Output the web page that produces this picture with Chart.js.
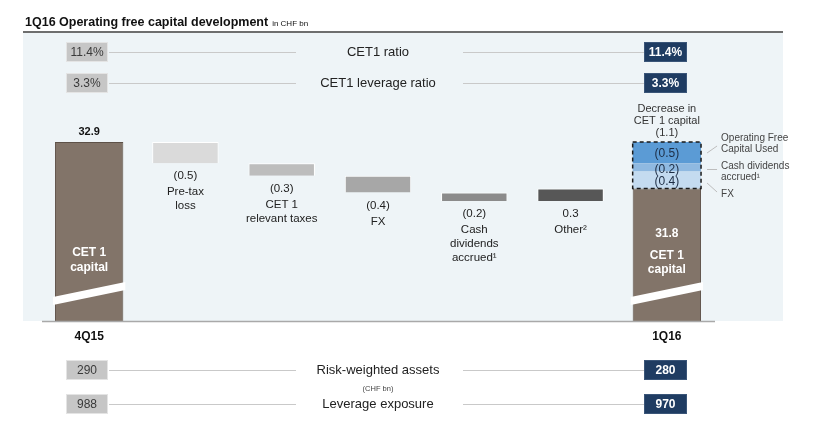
<!DOCTYPE html>
<html lang="en">
<head>
  <meta charset="UTF-8">
  <title>1Q16 Operating free capital development</title>
  <script src="https://cdn.jsdelivr.net/npm/chart.js"></script>
  <style>
    body { margin: 0; background: #fff; }
    #wrap { width: 821px; height: 430px; }
  </style>
</head>
<body>
<div id="wrap"><canvas id="myChart" width="821" height="430"></canvas></div>

<script>
  // waterfall data (CHF bn)
  var startLabel = '4Q15';
  var endLabel = '1Q16';
  var startValue = 32.9;
  var endValue = 31.8;
  var stepLabels = [['Pre-tax', 'loss'], ['CET 1', 'relevant taxes'], ['FX'], ['Cash', 'dividends', 'accrued\u00b9'], ['Other\u00b2']];
  var stepValues = [-0.5, -0.3, -0.4, -0.2, 0.3];
  var stepColors = ['#dadada', '#bdbdbd', '#a7a7a7', '#8b8b8b', '#575757'];

  // decrease in CET1 capital, stacked on the 1Q16 bar (bottom to top)
  var decreaseLabels = [['FX'], ['Cash dividends', 'accrued\u00b9'], ['Operating Free', 'Capital Used']];
  var decreaseValues = [0.4, 0.2, 0.5];
  var decreaseColors = ['#c4dbf0', '#8fb9e1', '#5b9bd5'];

  // ratio rows above and exposure rows below
  var ratioNames = ['CET1 ratio', 'CET1 leverage ratio'];
  var ratioStart = ['11.4%', '3.3%'];
  var ratioEnd = ['11.4%', '3.3%'];
  var exposureNames = ['Risk-weighted assets', 'Leverage exposure'];
  var exposureStart = ['290', '988'];
  var exposureEnd = ['280', '970'];

  var yMin = 28.65;
  var yMax = 33.9;
  var FONT = '"Liberation Sans", Arial, sans-serif';

  function fmt(v) {
    return v < 0 ? '(' + Math.abs(v).toFixed(1) + ')' : v.toFixed(1);
  }

  // build floating bars
  var categories = [startLabel].concat(stepLabels.map(function (l) { return l.join(' '); }), [endLabel]);
  var n = categories.length;
  var baseData = [];
  var stepData = [];
  var running = startValue;
  for (var i = 0; i < n; i++) { baseData.push(null); stepData.push(null); }
  baseData[0] = [yMin, startValue];
  baseData[n - 1] = [yMin, endValue];
  for (var s = 0; s < stepValues.length; s++) {
    var next = running + stepValues[s];
    stepData[s + 1] = [Math.min(running, next), Math.max(running, next)];
    running = next;
  }

  var datasets = [{
    label: 'CET 1 capital',
    data: baseData,
    backgroundColor: '#827469',
    borderColor: '#5d5148',
    borderWidth: 1,
    barPercentage: 0.71,
    categoryPercentage: 1,
    grouped: false
  }, {
    label: 'steps',
    data: stepData,
    backgroundColor: [null].concat(stepColors, [null]),
    borderColor: '#ffffff',
    borderWidth: 1,
    barPercentage: 0.69,
    categoryPercentage: 1,
    grouped: false
  }];

  var level = endValue;
  for (var d = 0; d < decreaseValues.length; d++) {
    var dd = [];
    for (var k = 0; k < n; k++) dd.push(null);
    dd[n - 1] = [level, level + decreaseValues[d]];
    level += decreaseValues[d];
    datasets.push({
      label: decreaseLabels[d].join(' '),
      data: dd,
      backgroundColor: decreaseColors[d],
      borderWidth: 0,
      barPercentage: 0.71,
      categoryPercentage: 1,
      grouped: false
    });
  }

  function drawBox(ctx, x, y, w, h, fill, border, text, color, bold) {
    ctx.fillStyle = fill;
    ctx.fillRect(x, y, w, h);
    ctx.strokeStyle = border;
    ctx.lineWidth = 1;
    ctx.strokeRect(x + 0.5, y + 0.5, w - 1, h - 1);
    ctx.fillStyle = color;
    ctx.font = (bold ? 'bold ' : '') + '12px ' + FONT;
    ctx.textAlign = 'center';
    ctx.textBaseline = 'middle';
    ctx.fillText(text, x + w / 2, y + h / 2 + 1);
  }

  function drawRow(ctx, y, name, left, right) {
    ctx.strokeStyle = '#c9c9c9';
    ctx.lineWidth = 1;
    ctx.beginPath();
    ctx.moveTo(109, y + 0.5); ctx.lineTo(296, y + 0.5);
    ctx.moveTo(463, y + 0.5); ctx.lineTo(644, y + 0.5);
    ctx.stroke();
    drawBox(ctx, 66, y - 10, 42, 20, '#c6c6c6', '#e4e4e4', left, '#3a3a3a', false);
    drawBox(ctx, 644, y - 10, 43, 20, '#1f3c62', '#3a5578', right, '#fff', true);
    ctx.fillStyle = '#222';
    ctx.font = '13px ' + FONT;
    ctx.textAlign = 'center';
    ctx.textBaseline = 'middle';
    ctx.fillText(name, 378, y);
  }

  var decorations = {
    id: 'decorations',
    beforeDraw: function (chart) {
      var ctx = chart.ctx;
      ctx.save();
      // title
      ctx.fillStyle = '#111';
      ctx.font = 'bold 12.5px ' + FONT;
      ctx.textAlign = 'left';
      ctx.textBaseline = 'alphabetic';
      var title = '1Q16 Operating free capital development';
      ctx.fillText(title, 25, 26);
      var tw = ctx.measureText(title).width;
      ctx.font = '8px ' + FONT;
      ctx.fillText('in CHF bn', 25 + tw + 4, 26);
      // panel
      ctx.fillStyle = '#eef4f7';
      ctx.fillRect(23, 33, 760, 288);
      ctx.fillStyle = '#6e6e6e';
      ctx.fillRect(23, 31, 760, 2);
      // rows
      drawRow(ctx, 52, ratioNames[0], ratioStart[0], ratioEnd[0]);
      drawRow(ctx, 83, ratioNames[1], ratioStart[1], ratioEnd[1]);
      drawRow(ctx, 370, exposureNames[0], exposureStart[0], exposureEnd[0]);
      drawRow(ctx, 404, exposureNames[1], exposureStart[1], exposureEnd[1]);
      ctx.fillStyle = '#444';
      ctx.font = '7.5px ' + FONT;
      ctx.textAlign = 'center';
      ctx.fillText('(CHF bn)', 378, 389);
      ctx.restore();
    },
    afterDatasetsDraw: function (chart) {
      var ctx = chart.ctx;
      var area = chart.chartArea;
      var yScale = chart.scales.y;
      var base = chart.getDatasetMeta(0).data;
      var steps = chart.getDatasetMeta(1).data;
      ctx.save();
      ctx.textAlign = 'center';
      ctx.textBaseline = 'middle';

      // axis line
      ctx.strokeStyle = '#a9a9a9';
      ctx.lineWidth = 1.5;
      ctx.beginPath();
      ctx.moveTo(area.left + 1, area.bottom + 0.5);
      ctx.lineTo(area.right, area.bottom + 0.5);
      ctx.stroke();

      // axis breaks on the two full bars
      [0, n - 1].forEach(function (idx) {
        var el = base[idx];
        var l = el.x - el.width / 2 - 2;
        var r = el.x + el.width / 2 + 2;
        var yb = area.bottom;
        ctx.fillStyle = '#ffffff';
        ctx.beginPath();
        ctx.moveTo(l, yb - 24);
        ctx.lineTo(r, yb - 39);
        ctx.lineTo(r, yb - 31);
        ctx.lineTo(l, yb - 16);
        ctx.closePath();
        ctx.fill();
      });

      // bar labels on full bars
      var b0 = base[0];
      var b1 = base[n - 1];
      ctx.fillStyle = '#111';
      ctx.font = 'bold 11px ' + FONT;
      ctx.fillText(startValue.toFixed(1), b0.x, b0.y - 10);
      ctx.fillStyle = '#fff';
      ctx.font = 'bold 12px ' + FONT;
      ctx.fillText('CET 1', b0.x, 253);
      ctx.fillText('capital', b0.x, 268);
      ctx.fillText(endValue.toFixed(1), b1.x, 234);
      ctx.fillText('CET 1', b1.x, 256);
      ctx.fillText('capital', b1.x, 270);

      // step labels
      for (var s = 0; s < stepValues.length; s++) {
        var el = steps[s + 1];
        var y = Math.max(el.y, el.base) + 13;
        ctx.fillStyle = '#222';
        ctx.font = '11.5px ' + FONT;
        ctx.fillText(fmt(stepValues[s]), el.x, y);
        var lines = stepLabels[s];
        for (var j = 0; j < lines.length; j++) {
          ctx.fillText(lines[j], el.x, y + 16 + j * 14);
        }
      }

      // decrease stack: dashed box and labels
      var total = 0;
      for (var d = 0; d < decreaseValues.length; d++) total += decreaseValues[d];
      var topPx = yScale.getPixelForValue(endValue + total);
      var botPx = yScale.getPixelForValue(endValue);
      var bl = b1.x - b1.width / 2;
      ctx.strokeStyle = '#1a1a1a';
      ctx.lineWidth = 1.5;
      ctx.setLineDash([4, 3]);
      ctx.strokeRect(bl, topPx, b1.width, botPx - topPx);
      ctx.setLineDash([]);

      ctx.fillStyle = '#333';
      ctx.font = '11px ' + FONT;
      ctx.fillText('Decrease in', b1.x, 109);
      ctx.fillText('CET 1 capital', b1.x, 121);
      ctx.fillText(fmt(-total), b1.x, 133);

      var lvl = endValue;
      var right = b1.x + b1.width / 2;
      var offs = [2, 2, 1];
      for (var d2 = 0; d2 < decreaseValues.length; d2++) {
        var y0 = yScale.getPixelForValue(lvl);
        var y1 = yScale.getPixelForValue(lvl + decreaseValues[d2]);
        var mid = (y0 + y1) / 2;
        ctx.fillStyle = '#1d2d44';
        ctx.font = '12px ' + FONT;
        ctx.fillText(fmt(-decreaseValues[d2]), b1.x, mid + offs[d2]);
        lvl += decreaseValues[d2];
      }

      // side annotations
      ctx.strokeStyle = '#bdbdbd';
      ctx.lineWidth = 1;
      ctx.beginPath();
      ctx.moveTo(right + 6, 153); ctx.lineTo(right + 16, 146);
      ctx.moveTo(right + 6, 169.5); ctx.lineTo(right + 16, 169.5);
      ctx.moveTo(right + 6, 183); ctx.lineTo(right + 16, 192);
      ctx.stroke();
      ctx.fillStyle = '#444';
      ctx.font = '10px ' + FONT;
      ctx.textAlign = 'left';
      var annY = [[194], [166, 177], [138, 149]];
      for (var a = 0; a < decreaseLabels.length; a++) {
        for (var m = 0; m < decreaseLabels[a].length; m++) {
          ctx.fillText(decreaseLabels[a][m], right + 20, annY[a][m]);
        }
      }

      // period labels
      ctx.textAlign = 'center';
      ctx.fillStyle = '#111';
      ctx.font = 'bold 12px ' + FONT;
      ctx.fillText(startLabel, b0.x, 337);
      ctx.fillText(endLabel, b1.x, 337);
      ctx.restore();
    }
  };

  new Chart(document.getElementById('myChart'), {
    type: 'bar',
    data: { labels: categories, datasets: datasets },
    options: {
      responsive: false,
      animation: false,
      layout: { padding: { left: 41, right: 106, top: 100, bottom: 109 } },
      plugins: { legend: { display: false }, tooltip: { enabled: false } },
      scales: {
        x: { display: false, grid: { display: false } },
        y: { display: false, min: yMin, max: yMax }
      }
    },
    plugins: [decorations]
  });
</script>
</body>
</html>
